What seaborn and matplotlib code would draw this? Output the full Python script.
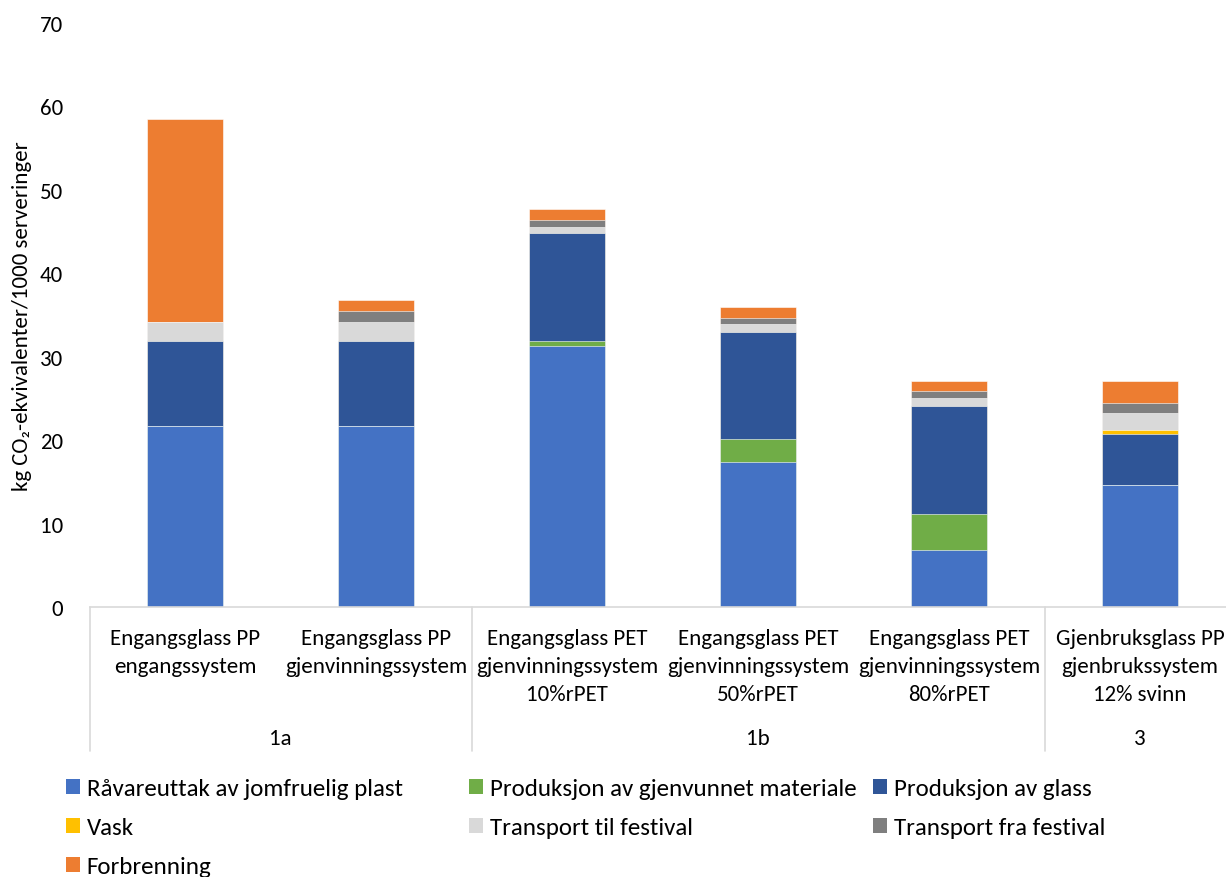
import numpy as np
import pandas as pd
import matplotlib
matplotlib.use("Agg")
import matplotlib.pyplot as plt
from matplotlib.patches import Patch
from matplotlib.lines import Line2D
import seaborn as sns

# ---- data ----
scenarios = [
    "Engangsglass PP\nengangssystem",
    "Engangsglass PP\ngjenvinningssystem",
    "Engangsglass PET\ngjenvinningssystem\n10%rPET",
    "Engangsglass PET\ngjenvinningssystem\n50%rPET",
    "Engangsglass PET\ngjenvinningssystem\n80%rPET",
    "Gjenbruksglass PP\ngjenbrukssystem\n12% svinn",
]
groups = ["1a", "1b", "3"]
group_sizes = [2, 3, 1]

components = [
    "Råvareuttak av jomfruelig plast",
    "Produksjon av gjenvunnet materiale",
    "Produksjon av glass",
    "Vask",
    "Transport til festival",
    "Transport fra festival",
    "Forbrenning",
]
raavare = [21.7, 21.7, 31.25, 17.35, 6.85, 14.6]
gjenvunnet = [0.0, 0.0, 0.6, 2.75, 4.35, 0.0]
glass = [10.2, 10.2, 12.95, 12.9, 12.95, 6.15]
vask = [0.0, 0.0, 0.0, 0.0, 0.0, 0.45]
transport_til = [2.3, 2.3, 0.8, 0.9, 0.85, 2.0]
transport_fra = [0.0, 1.3, 0.8, 0.8, 0.85, 1.2]
forbrenning = [24.3, 1.3, 1.3, 1.3, 1.25, 2.65]
series = [raavare, gjenvunnet, glass, vask, transport_til, transport_fra, forbrenning]
colors = ["#4472C4", "#70AD47", "#2F5597", "#FFC000", "#D9D9D9", "#7F7F7F", "#ED7D31"]

# ---- long table with cumulative tops ----
rows = []
for si, sc in enumerate(scenarios):
    cum = 0.0
    for ci, comp in enumerate(components):
        cum += series[ci][si]
        rows.append({"scenario": sc, "component": comp, "value": series[ci][si], "top": cum})
df = pd.DataFrame(rows)

sns.set_theme(style="white")
FONT = ["Carlito", "DejaVu Sans"]
plt.rcParams["font.family"] = FONT
FS = 16.5
FS_LEG = 18
TXT = "#000000"

W, H = 1226, 878
fig = plt.figure(figsize=(W / 100, H / 100), dpi=100)
ax_left, ax_right, ax_top, ax_bot = 89.5, 1235.5, 24, 608
ax = fig.add_axes([ax_left / W, 1 - ax_bot / H, (ax_right - ax_left) / W, (ax_bot - ax_top) / H])

# draw from the top-most component downward so lower segments overlay
for ci in range(len(components) - 1, -1, -1):
    sub = df[df["component"] == components[ci]]
    sns.barplot(data=sub, x="scenario", y="top", order=scenarios, color=colors[ci],
                width=0.4, saturation=1, ax=ax, edgecolor="white", linewidth=0.4,
                errorbar=None)

ax.set_xlim(-0.5, len(scenarios) - 0.5)
ax.set_ylim(0, 70)
ax.set_yticks(np.arange(0, 71, 10))
ax.tick_params(axis="y", length=0, pad=19, labelsize=FS, labelcolor=TXT)
ax.tick_params(axis="x", length=0, pad=15, labelsize=FS, labelcolor=TXT)
ax.set_xticks(range(len(scenarios)))
ax.set_xticklabels(scenarios, linespacing=1.49, va="top")
ax.set_xlabel("")
ax.set_ylabel("kg CO₂-ekvivalenter/1000 serveringer", fontsize=FS, labelpad=6, color=TXT)
for s in ["top", "right", "left"]:
    ax.spines[s].set_visible(False)
ax.spines["bottom"].set_color("#D9D9D9")
ax.spines["bottom"].set_linewidth(1.2)
ax.grid(False)

# group separators and group labels
trans = ax.get_xaxis_transform()
span = ax_bot - ax_top
sep_len = (752 - 608) / span
pos = -0.5
seps = [pos]
for g, n in zip(groups, group_sizes):
    center = pos + n / 2
    ax.text(center, -(739 - 608) / span, g, transform=trans,
            ha="center", va="center", fontsize=FS, color=TXT)
    pos += n
    seps.append(pos)
for sx in seps:
    ax.add_line(Line2D([sx, sx], [0, -sep_len], transform=trans, color="#D9D9D9",
                       linewidth=1.2, clip_on=False))

# legend in three columns (row-major like the reference)
handles = [Patch(facecolor=c, edgecolor="none") for c in colors]
cols = [[0, 3, 6], [1, 4], [2, 5]]
col_x = [66, 469, 873]
for idxs, cx in zip(cols, col_x):
    leg = fig.legend([handles[i] for i in idxs], [components[i] for i in idxs],
                     loc="upper left", bbox_to_anchor=(cx / W, 1 - 779 / H),
                     frameon=False, fontsize=FS_LEG, handlelength=0.56, handleheight=0.56,
                     handletextpad=0.27, labelspacing=0.72, borderpad=0, borderaxespad=0)
    for t in leg.get_texts():
        t.set_color(TXT)

fig.savefig("out.png", dpi=100)
